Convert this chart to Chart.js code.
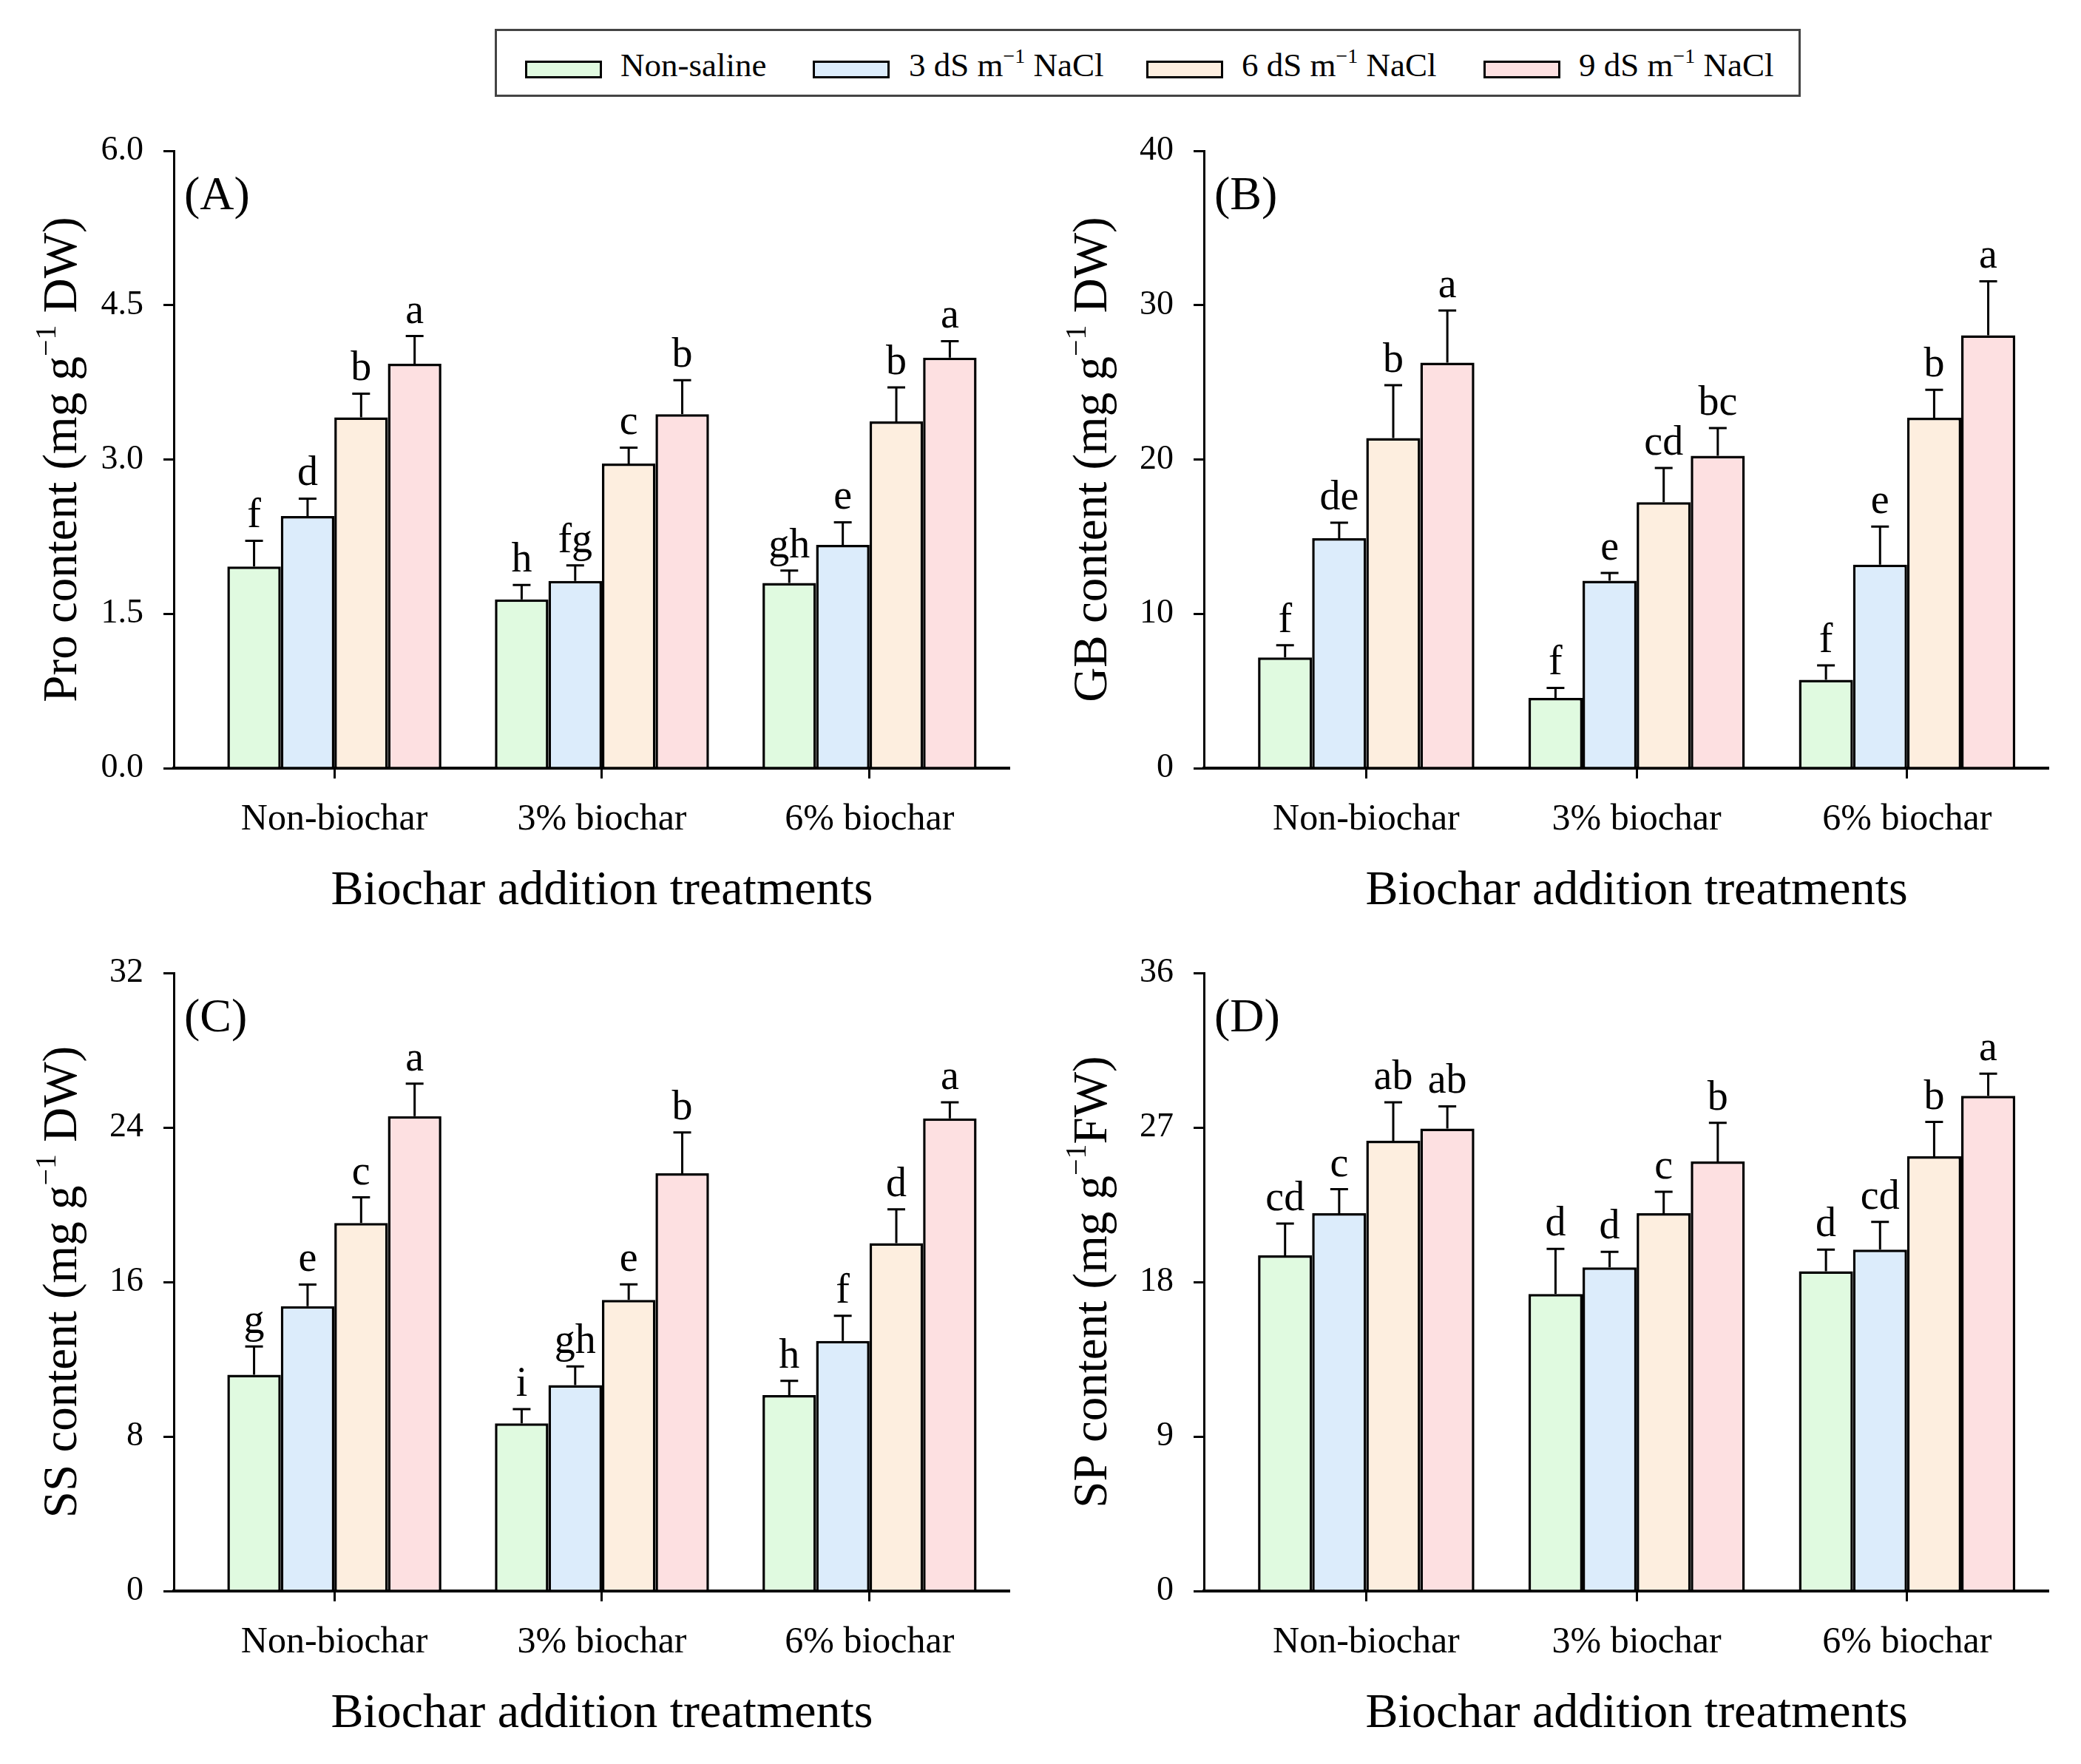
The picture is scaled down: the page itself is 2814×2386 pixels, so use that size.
<!DOCTYPE html>
<html>
<head>
<meta charset="utf-8">
<script src="https://cdn.jsdelivr.net/npm/chart.js@4.4.0/dist/chart.umd.min.js"></script>
<style>
  body { margin: 0; background: #fff; width: 2814px; height: 2386px; position: relative; overflow: hidden; }
  canvas { position: absolute; }
  #legend { position: absolute; left: 669px; top: 39px; width: 1760px; height: 86px; border: 3px solid #444; box-sizing: content-box; font-family: "Liberation Serif", "Times New Roman", serif; font-size: 45px; }
  .sw { position: absolute; top: 40px; width: 98px; height: 18px; border: 3px solid #000; }
  .lt { position: absolute; top: 20px; line-height: 52px; white-space: nowrap; }
  .lt sup { font-size: 28px; vertical-align: 18px; line-height: 0; }
</style>
</head>
<body>
<div id="legend"></div>
<canvas id="chartA"></canvas>
<canvas id="chartB"></canvas>
<canvas id="chartC"></canvas>
<canvas id="chartD"></canvas>
<script>
const categories = ['Non-biochar', '3% biochar', '6% biochar'];
const seriesLabels = ['Non-saline', '3 dS m<sup>\u22121</sup> NaCl', '6 dS m<sup>\u22121</sup> NaCl', '9 dS m<sup>\u22121</sup> NaCl'];
const colors = ['rgb(224,250,224)', 'rgb(220,236,251)', 'rgb(253,238,223)', 'rgb(253,224,225)'];
const xTitle = 'Biochar addition treatments';

// each row = one salinity level, columns = biochar treatments
const proMean = [[1.96, 1.64, 1.80], [2.45, 1.82, 2.17], [3.41, 2.96, 3.37], [3.93, 3.44, 3.99]];
const proErr = [[0.25, 0.14, 0.12], [0.17, 0.15, 0.22], [0.23, 0.155, 0.33], [0.27, 0.33, 0.16]];
const proLetters = [['f', 'h', 'gh'], ['d', 'fg', 'e'], ['b', 'c', 'b'], ['a', 'b', 'a']];

const gbMean = [[7.17, 4.55, 5.73], [14.9, 12.14, 13.18], [21.39, 17.23, 22.71], [26.28, 20.24, 28.05]];
const gbErr = [[0.79, 0.65, 0.93], [1.01, 0.51, 2.47], [3.43, 2.22, 1.8], [3.37, 1.8, 3.5]];
const gbLetters = [['f', 'f', 'f'], ['de', 'e', 'e'], ['b', 'cd', 'b'], ['a', 'bc', 'a']];

const ssMean = [[11.2, 8.68, 10.14], [14.75, 10.66, 12.95], [19.05, 15.07, 18.01], [24.58, 21.63, 24.47]];
const ssErr = [[1.46, 0.74, 0.74], [1.12, 0.97, 1.3], [1.33, 0.81, 1.75], [1.69, 2.11, 0.83]];
const ssLetters = [['g', 'i', 'h'], ['e', 'gh', 'f'], ['c', 'e', 'd'], ['a', 'b', 'a']];

const spMean = [[19.55, 17.3, 18.62], [22.01, 18.85, 19.88], [26.23, 22.01, 25.32], [26.94, 25.02, 28.84]];
const spErr = [[1.85, 2.63, 1.26], [1.39, 0.91, 1.62], [2.23, 1.24, 2.0], [1.29, 2.25, 1.29]];
const spLetters = [['cd', 'd', 'd'], ['c', 'd', 'cd'], ['ab', 'c', 'b'], ['ab', 'b', 'a']];

const FONT = '"Liberation Serif", "Times New Roman", serif';

// legend
const legendPos = [[38, 167], [427, 557], [878, 1007], [1334, 1463]];
const legend = document.getElementById('legend');
seriesLabels.forEach((lab, i) => {
  const sw = document.createElement('div');
  sw.className = 'sw';
  sw.style.left = legendPos[i][0] + 'px';
  sw.style.background = colors[i];
  legend.appendChild(sw);
  const t = document.createElement('div');
  t.className = 'lt';
  t.style.left = legendPos[i][1] + 'px';
  t.innerHTML = lab;
  legend.appendChild(t);
});

const errorBars = {
  id: 'errorBars',
  afterDatasetsDraw(chart) {
    const ctx = chart.ctx;
    const y = chart.scales.y;
    ctx.save();
    ctx.strokeStyle = '#000';
    ctx.lineWidth = 3;
    ctx.fillStyle = '#000';
    ctx.font = '56px ' + FONT;
    ctx.textAlign = 'center';
    ctx.textBaseline = 'alphabetic';
    chart.data.datasets.forEach((ds, i) => {
      const meta = chart.getDatasetMeta(i);
      meta.data.forEach((bar, j) => {
        const top = y.getPixelForValue(ds.data[j].y + ds.err[j]);
        ctx.beginPath();
        ctx.moveTo(bar.x, bar.y);
        ctx.lineTo(bar.x, top);
        ctx.moveTo(bar.x - 12, top);
        ctx.lineTo(bar.x + 12, top);
        ctx.stroke();
        ctx.fillText(ds.letters[j], bar.x, top - 18);
      });
    });
    ctx.restore();
  },
  afterDraw(chart) {
    const o = chart.options.plugins.errorBars;
    const ctx = chart.ctx;
    const area = chart.chartArea;
    ctx.save();
    ctx.fillStyle = '#000';
    // panel label
    ctx.font = '64px ' + FONT;
    ctx.textAlign = 'left';
    ctx.textBaseline = 'middle';
    ctx.fillText(o.panel, area.left + 14, area.top + 62);
    // x title, centred on the middle treatment
    ctx.font = '66px ' + FONT;
    ctx.textAlign = 'center';
    ctx.fillText(xTitle, chart.scales.x.getPixelForValue(1), area.bottom + 167);
    // y title with superscript
    ctx.translate(o.titleX, (area.top + area.bottom) / 2);
    ctx.rotate(-Math.PI / 2);
    ctx.textAlign = 'left';
    ctx.textBaseline = 'alphabetic';
    const big = '65px ' + FONT, small = '40px ' + FONT;
    ctx.font = big;
    const w1 = ctx.measureText(o.title[0]).width;
    const w3 = ctx.measureText(o.title[2]).width;
    ctx.font = small;
    const w2 = ctx.measureText(o.title[1]).width;
    let x = -(w1 + w2 + w3) / 2;
    ctx.font = big;
    ctx.fillText(o.title[0], x, 22);
    x += w1;
    ctx.font = small;
    ctx.fillText(o.title[1], x, -6);
    x += w2;
    ctx.font = big;
    ctx.fillText(o.title[2], x, 22);
    ctx.restore();
  }
};

function makePanel(id, box, plot, means, errs, letters, yMax, yStep, digits, panel, title, titleX) {
  const cv = document.getElementById(id);
  cv.width = box.w;
  cv.height = box.h;
  cv.style.left = box.left + 'px';
  cv.style.top = box.top + 'px';
  const yWidth = plot.left - box.left;
  const xHeight = box.top + box.h - plot.bottom;
  return new Chart(cv, {
    type: 'bar',
    data: {
      datasets: means.map((m, i) => ({
        data: m.map((v, j) => ({ x: j, y: v })),
        err: errs[i],
        letters: letters[i],
        backgroundColor: colors[i],
        borderColor: '#000',
        borderWidth: 3.5,
        categoryPercentage: 0.8,
        barPercentage: 1.0
      }))
    },
    options: {
      responsive: false,
      animation: false,
      devicePixelRatio: 1,
      layout: { padding: { top: plot.top - box.top, right: box.left + box.w - plot.right, left: 0, bottom: 0 } },
      plugins: {
        legend: { display: false },
        tooltip: { enabled: false },
        errorBars: { panel: panel, title: title, titleX: titleX }
      },
      scales: {
        x: {
          type: 'linear',
          min: -0.6,
          max: 2.52,
          offset: false,
          afterBuildTicks: (s) => { s.ticks = categories.map((c, i) => ({ value: i })); },
          afterFit: (s) => { s.height = xHeight; },
          ticks: {
            callback: (v) => categories[v],
            autoSkip: false,
            maxRotation: 0,
            padding: 26,
            color: '#000',
            font: { family: FONT, size: 50 }
          },
          grid: { offset: false, drawOnChartArea: false, drawTicks: true, tickLength: 14, lineWidth: 3, color: '#000' },
          border: { display: true, width: 4, color: '#000' }
        },
        y: {
          min: 0,
          max: yMax,
          afterFit: (s) => { s.width = yWidth; },
          ticks: {
            stepSize: yStep,
            callback: (v) => v.toFixed(digits),
            padding: 27,
            color: '#000',
            font: { family: FONT, size: 46 }
          },
          grid: { drawOnChartArea: false, drawTicks: true, tickLength: 14, lineWidth: 3, color: '#000' },
          border: { display: true, width: 3, color: '#000' }
        }
      }
    },
    plugins: [errorBars]
  });
}

makePanel('chartA', { left: 0, top: 140, w: 1400, h: 1130 }, { left: 235, top: 204, right: 1364, bottom: 1039 },
  proMean, proErr, proLetters, 6, 1.5, 1, '(A)', ['Pro content (mg g', '\u22121', ' DW)'], 81);
makePanel('chartB', { left: 1400, top: 140, w: 1414, h: 1130 }, { left: 1628, top: 204, right: 2769, bottom: 1039 },
  gbMean, gbErr, gbLetters, 40, 10, 0, '(B)', ['GB content (mg g', '\u22121', ' DW)'], 74);
makePanel('chartC', { left: 0, top: 1250, w: 1400, h: 1136 }, { left: 235, top: 1316, right: 1364, bottom: 2152 },
  ssMean, ssErr, ssLetters, 32, 8, 0, '(C)', ['SS content (mg g', '\u22121', ' DW)'], 81);
makePanel('chartD', { left: 1400, top: 1250, w: 1414, h: 1136 }, { left: 1628, top: 1316, right: 2769, bottom: 2152 },
  spMean, spErr, spLetters, 36, 9, 0, '(D)', ['SP content (mg g', '\u22121', 'FW)'], 74);
</script>
</body>
</html>
